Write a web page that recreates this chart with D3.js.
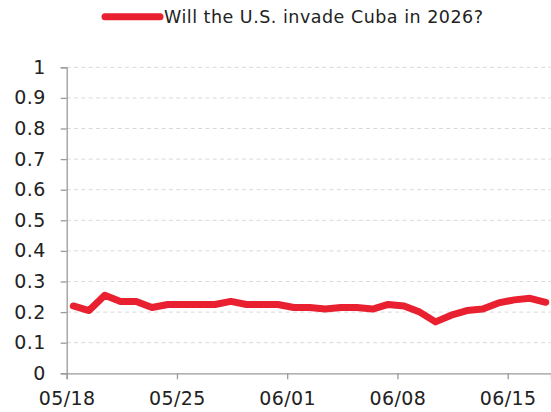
<!DOCTYPE html>
<html>
<head>
<meta charset="utf-8">
<script src="https://cdn.jsdelivr.net/npm/d3@7"></script>
<style>
  html, body { margin: 0; padding: 0; background: #fff; }
  svg { display: block; }
  text { font-family: "DejaVu Sans", sans-serif; fill: #222; }
</style>
</head>
<body>
<svg id="chart" width="551" height="412"></svg>
<script>
const seriesName = "Will the U.S. invade Cuba in 2026?";
const dates = [
  "2026-05-18T10:00","2026-05-19T10:00","2026-05-20T10:00","2026-05-21T10:00","2026-05-22T10:00",
  "2026-05-23T10:00","2026-05-24T10:00","2026-05-25T10:00","2026-05-26T10:00","2026-05-27T10:00",
  "2026-05-28T10:00","2026-05-29T10:00","2026-05-30T10:00","2026-05-31T10:00","2026-06-01T10:00",
  "2026-06-02T10:00","2026-06-03T10:00","2026-06-04T10:00","2026-06-05T10:00","2026-06-06T10:00",
  "2026-06-07T10:00","2026-06-08T10:00","2026-06-09T10:00","2026-06-10T10:00","2026-06-11T10:00",
  "2026-06-12T10:00","2026-06-13T10:00","2026-06-14T10:00","2026-06-15T10:00","2026-06-16T10:00",
  "2026-06-17T10:00"
];
const values = [
  0.22, 0.205, 0.255, 0.235, 0.235,
  0.215, 0.225, 0.225, 0.225, 0.225,
  0.235, 0.225, 0.225, 0.225, 0.215,
  0.215, 0.21, 0.215, 0.215, 0.21,
  0.225, 0.22, 0.2, 0.168, 0.19,
  0.205, 0.21, 0.23, 0.24, 0.245,
  0.232
];
const xTickDates = ["2026-05-18","2026-05-25","2026-06-01","2026-06-08","2026-06-15"];
const yTicks = [0,0.1,0.2,0.3,0.4,0.5,0.6,0.7,0.8,0.9,1];
const xDomain = ["2026-05-18T00:00","2026-06-17T18:00"];

const parse = d3.timeParse("%Y-%m-%dT%H:%M");
const parseDay = d3.timeParse("%Y-%m-%d");
const data = dates.map((d, i) => ({ date: parse(d), value: values[i] }));

const svg = d3.select("#chart");
const mLeft = 66.7, mRight = 551, mTop = 67.3, mBottom = 373.3;
const axisFont = 19, legendFont = 17.5;

const x = d3.scaleTime().domain(xDomain.map(parse)).range([mLeft, mRight]);
const y = d3.scaleLinear().domain([0, 1]).range([mBottom, mTop]);

// grid
svg.append("g")
  .selectAll("line")
  .data(yTicks.filter(t => t > 0))
  .join("line")
  .attr("x1", mLeft).attr("x2", mRight)
  .attr("y1", d => y(d)).attr("y2", d => y(d))
  .attr("stroke", "#d9d9d9")
  .attr("stroke-width", 1)
  .attr("stroke-dasharray", "4,3.3");

// y axis
const yAxis = svg.append("g")
  .attr("transform", `translate(${mLeft},0)`)
  .call(d3.axisLeft(y).tickValues(yTicks).tickSize(6).tickPadding(15)
    .tickFormat(d => d3.format("~g")(d)));
yAxis.select(".domain").attr("stroke", "#9a9a9a").attr("stroke-width", 1.3);
yAxis.selectAll(".tick line").attr("stroke", "#9a9a9a").attr("stroke-width", 1.3);
yAxis.selectAll("text").attr("font-size", axisFont).attr("fill", "#222")
  .attr("letter-spacing", 0.4)
  .style("font-family", "'DejaVu Sans', sans-serif");

// x axis
const xAxis = svg.append("g")
  .attr("transform", `translate(0,${mBottom})`)
  .call(d3.axisBottom(x).tickValues(xTickDates.map(parseDay)).tickSize(6).tickPadding(12.5)
    .tickFormat(d3.timeFormat("%m/%d")));
xAxis.select(".domain").attr("stroke", "#9a9a9a").attr("stroke-width", 1.3);
xAxis.selectAll(".tick line").attr("stroke", "#9a9a9a").attr("stroke-width", 1.3);
xAxis.selectAll("text").attr("font-size", axisFont).attr("fill", "#222")
  .attr("letter-spacing", 0.4)
  .style("font-family", "'DejaVu Sans', sans-serif");

// line
const line = d3.line().x(d => x(d.date)).y(d => y(d.value));
svg.append("path")
  .datum(data)
  .attr("d", line)
  .attr("fill", "none")
  .attr("stroke", "#e8202f")
  .attr("stroke-width", 7)
  .attr("stroke-linejoin", "round")
  .attr("stroke-linecap", "round");

// legend
const lg = svg.append("g");
lg.append("line")
  .attr("x1", 105).attr("x2", 160)
  .attr("y1", 16.7).attr("y2", 16.7)
  .attr("stroke", "#e8202f").attr("stroke-width", 7).attr("stroke-linecap", "round");
lg.append("text")
  .attr("x", 164).attr("y", 16.7)
  .attr("dominant-baseline", "central")
  .attr("font-size", legendFont)
  .attr("letter-spacing", 0.5)
  .attr("fill", "#222")
  .text(seriesName);
</script>
</body>
</html>
